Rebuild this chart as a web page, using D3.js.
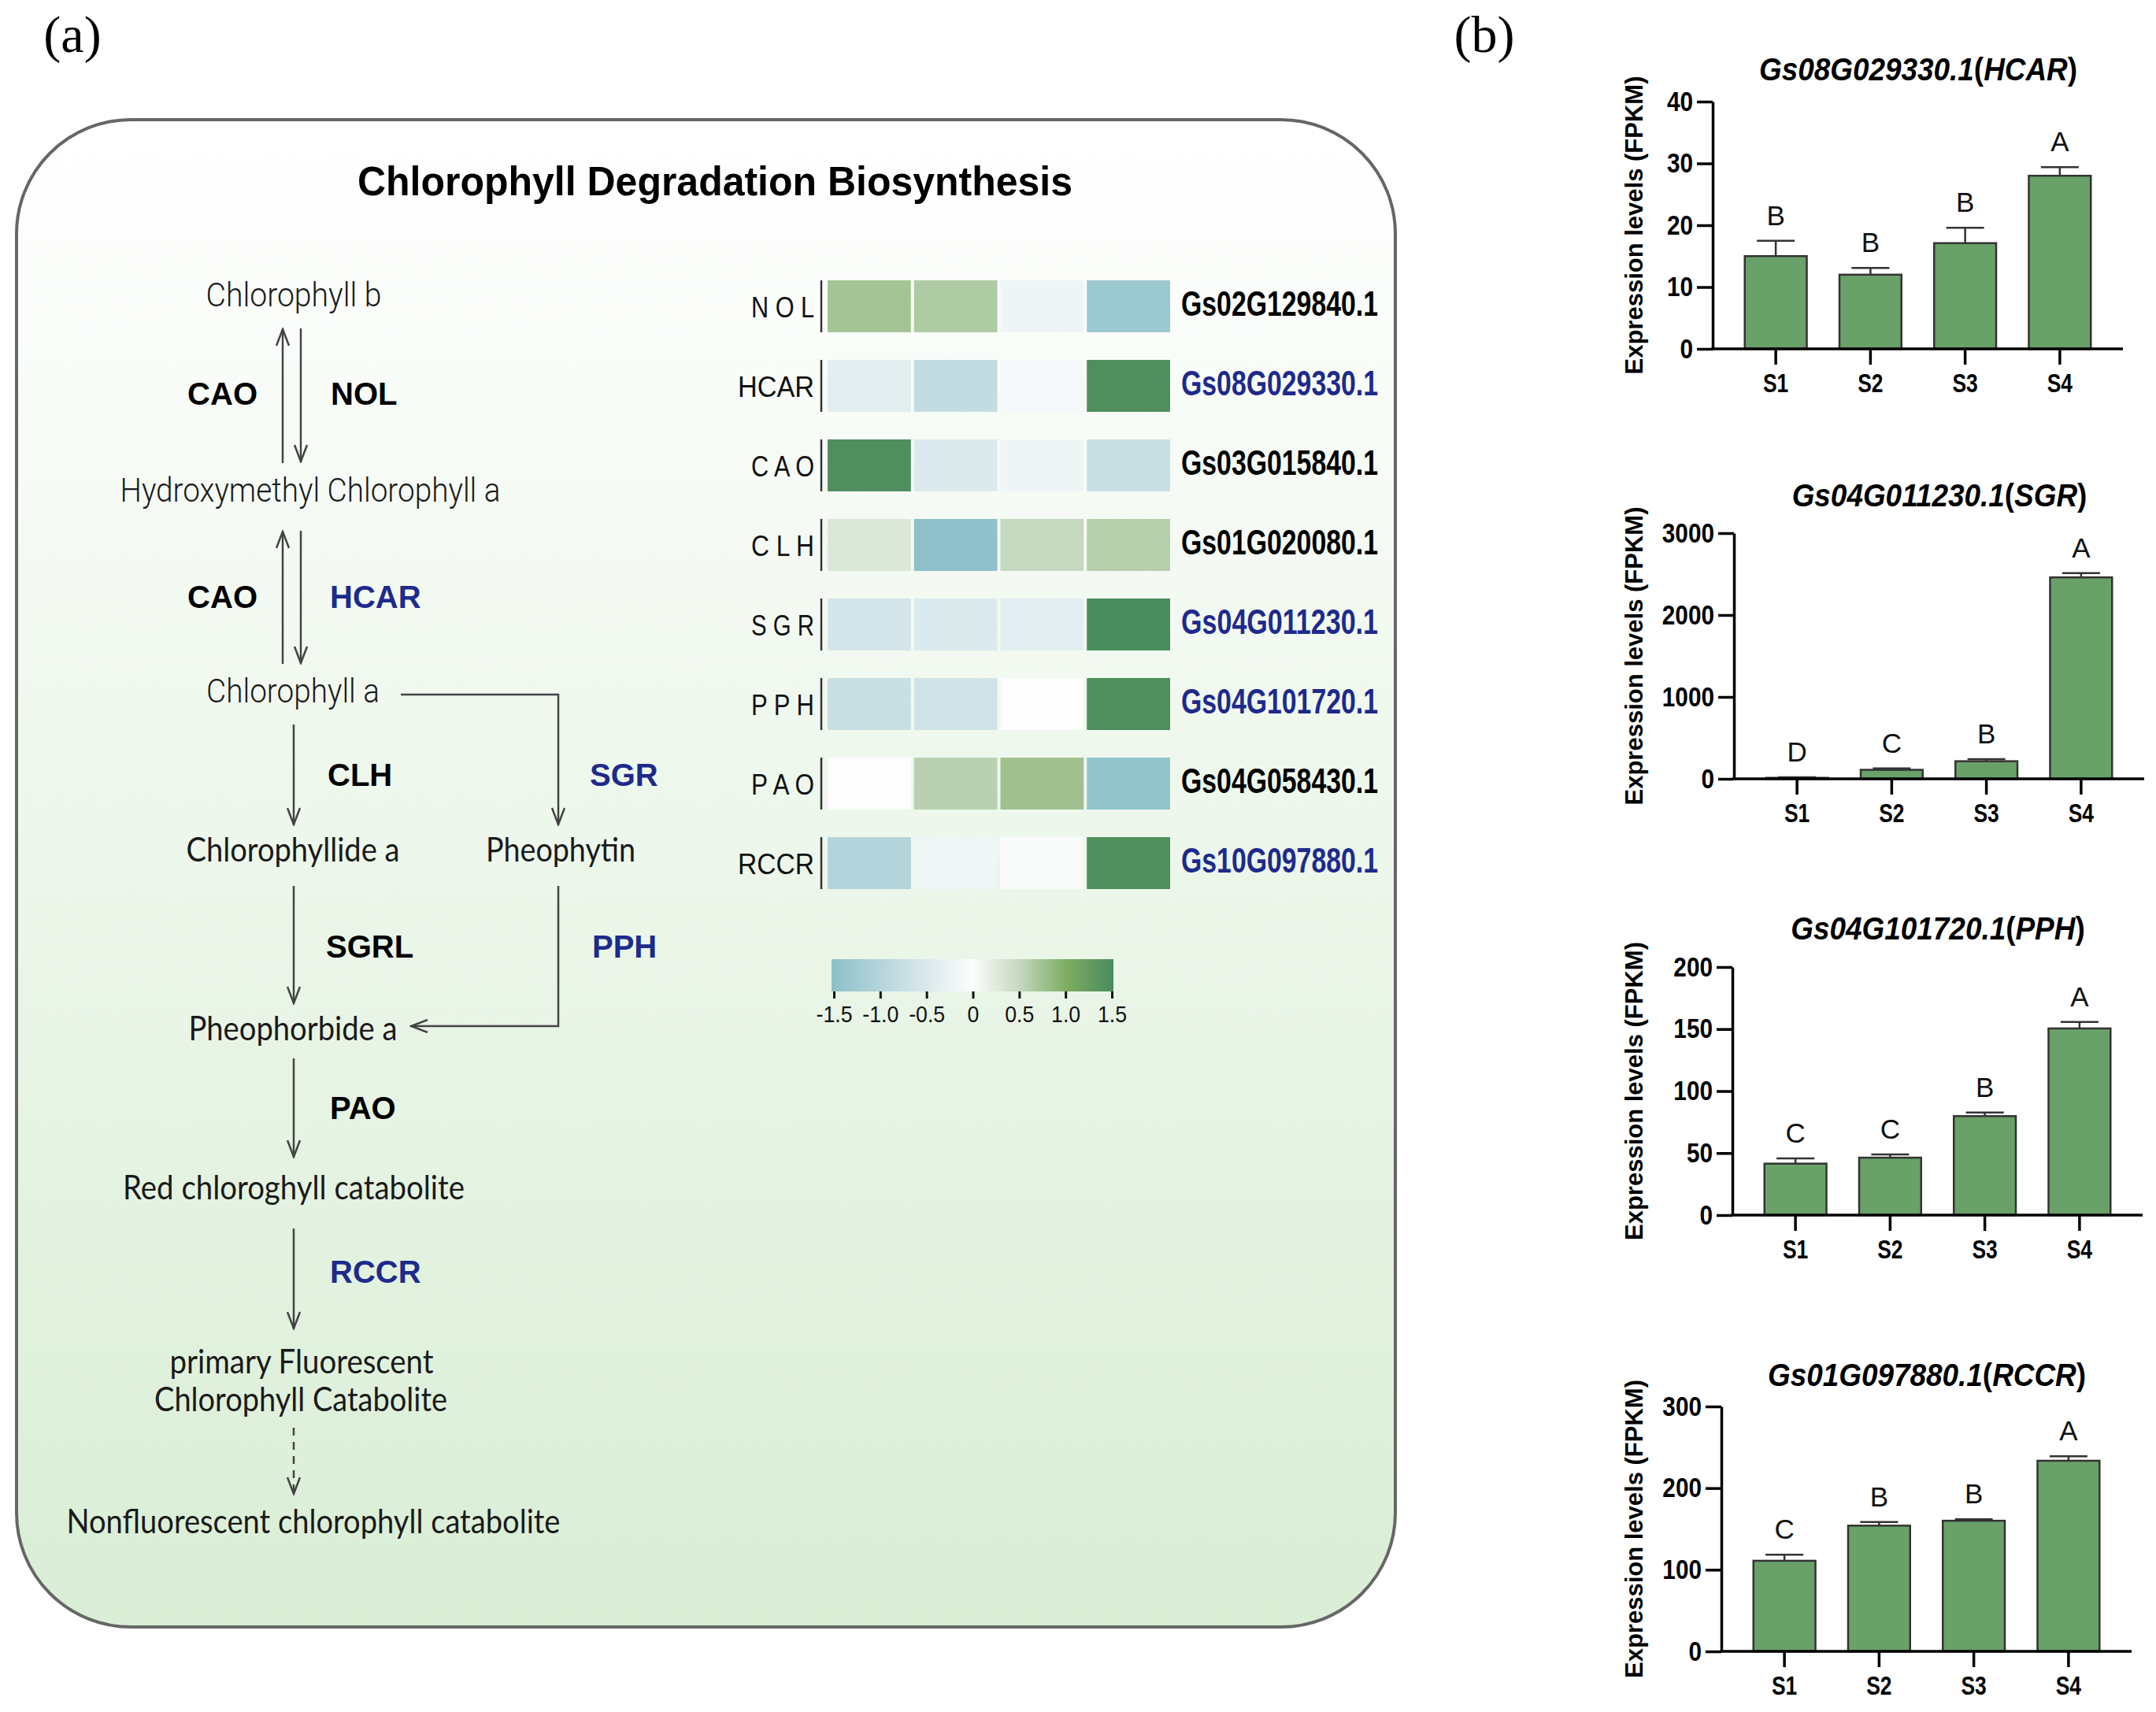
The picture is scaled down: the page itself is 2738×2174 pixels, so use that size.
<!DOCTYPE html>
<html>
<head>
<meta charset="utf-8">
<script src="https://cdn.jsdelivr.net/npm/d3@7"></script>
<style>
  body { margin: 0; background: #fff; }
  svg { display: block; }
</style>
</head>
<body>
<svg id="fig" width="2738" height="2174"></svg>
<script>
// ---------- heatmap data (row z-scores) ----------
const samples = ["S1", "S2", "S3", "S4"];
const heatGenes = ["NOL", "HCAR", "CAO", "CLH", "SGR", "PPH", "PAO", "RCCR"];
const heatIds = ["Gs02G129840.1", "Gs08G029330.1", "Gs03G015840.1", "Gs01G020080.1",
                 "Gs04G011230.1", "Gs04G101720.1", "Gs04G058430.1", "Gs10G097880.1"];
const heatValues = [
  [0.73, 0.65, -0.19, -1.3],
  [-0.38, -0.8, -0.09, 1.45],
  [1.45, -0.45, -0.2, -0.72],
  [0.3, -1.48, 0.5, 0.6],
  [-0.57, -0.46, -0.38, 1.5],
  [-0.73, -0.63, 0.0, 1.45],
  [0.0, 0.58, 0.76, -1.4],
  [-1.0, -0.18, -0.06, 1.45]
];
const highlighted = ["HCAR", "SGR", "PPH", "RCCR"];
const legendTicks = [-1.5, -1, -0.5, 0, 0.5, 1, 1.5];
const legendLabels = ["-1.5", "-1.0", "-0.5", "0", "0.5", "1.0", "1.5"];

// ---------- bar chart data (FPKM) ----------
const barIds = ["Gs08G029330.1", "Gs04G011230.1", "Gs04G101720.1", "Gs01G097880.1"];
const barNames = ["HCAR", "SGR", "PPH", "RCCR"];
const hcarMean = [15.0, 12.0, 17.1, 28.0];
const hcarErr = [2.5, 1.1, 2.5, 1.4];
const hcarLetters = ["B", "B", "B", "A"];
const hcarTicks = [0, 10, 20, 30, 40];
const sgrMean = [12, 110, 215, 2460];
const sgrErr = [8, 18, 26, 53];
const sgrLetters = ["D", "C", "B", "A"];
const sgrTicks = [0, 1000, 2000, 3000];
const pphMean = [41.5, 46.3, 79.8, 150.5];
const pphErr = [4.2, 2.6, 2.9, 5.2];
const pphLetters = ["C", "C", "B", "A"];
const pphTicks = [0, 50, 100, 150, 200];
const rccrMean = [111, 154, 160, 233.5];
const rccrErr = [7.5, 4.5, 1.7, 5.5];
const rccrLetters = ["C", "B", "B", "A"];
const rccrTicks = [0, 100, 200, 300];

// ---------- layout ----------
const SANS = "'Liberation Sans', Arial, Helvetica, sans-serif";
const BLUE = "#1e2a8c";
const svg = d3.select("#fig");
const defs = svg.append("defs");

function condense(sel, k) {
  sel.each(function () {
    const w = this.getComputedTextLength();
    d3.select(this).attr("textLength", w * k).attr("lengthAdjust", "spacingAndGlyphs");
  });
}

// panel letters
svg.append("text").attr("x", 92).attr("y", 66).attr("text-anchor", "middle")
  .attr("font-family", "'Liberation Serif', 'DejaVu Serif', serif").attr("font-size", 66).text("(a)");
svg.append("text").attr("x", 1885).attr("y", 66).attr("text-anchor", "middle")
  .attr("font-family", "'Liberation Serif', 'DejaVu Serif', serif").attr("font-size", 66).text("(b)");

// ---------- panel (a) box ----------
const bg = defs.append("linearGradient").attr("id", "bgGrad")
  .attr("x1", 0).attr("y1", 0).attr("x2", 0).attr("y2", 1);
bg.append("stop").attr("offset", "0%").attr("stop-color", "#ffffff");
bg.append("stop").attr("offset", "100%").attr("stop-color", "#d9eed5");

svg.append("rect")
  .attr("x", 21).attr("y", 152).attr("width", 1751).attr("height", 1914)
  .attr("rx", 145).attr("ry", 145)
  .attr("fill", "url(#bgGrad)").attr("stroke", "#666").attr("stroke-width", 4);

svg.append("text").attr("x", 908).attr("y", 248).attr("text-anchor", "middle")
  .attr("font-family", SANS).attr("font-weight", "bold").attr("font-size", 52)
  .attr("fill", "#000").attr("textLength", 908).attr("lengthAdjust", "spacingAndGlyphs")
  .text("Chlorophyll Degradation Biosynthesis");

// ---------- pathway diagram ----------
const pathNodes = [
  { t: "Chlorophyll b", x: 373, y: 389, w: 223, f: "roboto" },
  { t: "Hydroxymethyl Chlorophyll a", x: 394, y: 637, w: 483, f: "roboto" },
  { t: "Chlorophyll a", x: 372, y: 892, w: 220, f: "roboto" },
  { t: "Chlorophyllide a", x: 372, y: 1094, w: 271, f: "lato" },
  { t: "Pheophytin", x: 712, y: 1094, w: 190, f: "lato" },
  { t: "Pheophorbide a", x: 372, y: 1321, w: 265, f: "lato" },
  { t: "Red chloroghyll catabolite", x: 373, y: 1523, w: 434, f: "lato" },
  { t: "primary Fluorescent", x: 383, y: 1744, w: 335, f: "lato" },
  { t: "Chlorophyll Catabolite", x: 382, y: 1792, w: 372, f: "lato" },
  { t: "Nonfluorescent chlorophyll catabolite", x: 398, y: 1947, w: 627, f: "lato" }
];
const enzymes = [
  { t: "CAO", x: 327, y: 514, a: "end" },
  { t: "NOL", x: 420, y: 514, a: "start" },
  { t: "CAO", x: 327, y: 772, a: "end" },
  { t: "HCAR", x: 419, y: 772, a: "start" },
  { t: "CLH", x: 416, y: 998, a: "start" },
  { t: "SGR", x: 749, y: 998, a: "start" },
  { t: "SGRL", x: 414, y: 1216, a: "start" },
  { t: "PPH", x: 752, y: 1216, a: "start" },
  { t: "PAO", x: 419, y: 1421, a: "start" },
  { t: "RCCR", x: 419, y: 1629, a: "start" }
];
const arrows = [
  { p: [[359, 588], [359, 418]] },
  { p: [[382, 417], [382, 586]] },
  { p: [[359, 843], [359, 675]] },
  { p: [[382, 674], [382, 842]] },
  { p: [[373, 920], [373, 1047]] },
  { p: [[509, 882], [709, 882], [709, 1047]] },
  { p: [[373, 1125], [373, 1274]] },
  { p: [[709, 1125], [709, 1303], [522, 1303]] },
  { p: [[373, 1344], [373, 1469]] },
  { p: [[373, 1560], [373, 1687]] },
  { p: [[373, 1813], [373, 1897]], dash: true }
];

defs.append("marker").attr("id", "head")
  .attr("viewBox", "0 0 24 18").attr("refX", 22).attr("refY", 9)
  .attr("markerWidth", 24).attr("markerHeight", 18)
  .attr("markerUnits", "userSpaceOnUse").attr("orient", "auto")
  .append("path").attr("d", "M1,1 L22,9 L1,17")
  .attr("fill", "none").attr("stroke", "#444").attr("stroke-width", 2.5);

const line = d3.line();
svg.append("g").selectAll("path").data(arrows).join("path")
  .attr("d", d => line(d.p))
  .attr("fill", "none").attr("stroke", "#444").attr("stroke-width", 2.5)
  .attr("stroke-dasharray", d => d.dash ? "10,8" : null)
  .attr("marker-end", "url(#head)");

svg.append("g").selectAll("text").data(pathNodes).join("text")
  .attr("x", d => d.x - d.w / 2).attr("y", d => d.y)
  .attr("font-family", d => d.f === "roboto" ? "Roboto, sans-serif" : "Lato, 'Open Sans', sans-serif")
  .attr("font-weight", d => d.f === "roboto" ? 300 : 400)
  .attr("font-size", 43).attr("fill", "#1a1a1a")
  .attr("textLength", d => d.w).attr("lengthAdjust", "spacingAndGlyphs")
  .text(d => d.t);

svg.append("g").selectAll("text").data(enzymes).join("text")
  .attr("x", d => d.x).attr("y", d => d.y).attr("text-anchor", d => d.a)
  .attr("font-family", SANS).attr("font-weight", "bold").attr("font-size", 40)
  .attr("fill", d => highlighted.includes(d.t) ? BLUE : "#000")
  .text(d => d.t);

// ---------- heatmap ----------
const heatColor = d3.scaleLinear()
  .domain([-1.5, -0.75, 0, 0.5, 1, 1.5])
  .range(["#8cc0c9", "#c7dee3", "#fcfdfc", "#c5d8c0", "#7dac62", "#4a8c5e"])
  .clamp(true);
const hx = d3.scaleBand().domain(samples).range([1051, 1486]).paddingInner(0.036);
const hy = d3.scaleBand().domain(heatGenes).range([356, 1129]).paddingInner(0.347);

const cells = [];
heatGenes.forEach((g, r) => samples.forEach((s, c) => cells.push({ g, s, v: heatValues[r][c] })));

const heat = svg.append("g");
heat.selectAll("rect").data(cells).join("rect")
  .attr("x", d => hx(d.s)).attr("y", d => hy(d.g))
  .attr("width", hx.bandwidth()).attr("height", hy.bandwidth())
  .attr("fill", d => heatColor(d.v));

heat.selectAll("line.sep").data(heatGenes).join("line").attr("class", "sep")
  .attr("x1", 1043).attr("x2", 1043)
  .attr("y1", d => hy(d)).attr("y2", d => hy(d) + hy.bandwidth())
  .attr("stroke", "#333").attr("stroke-width", 2.5);

heat.selectAll("text.row").data(heatGenes).join("text").attr("class", "row")
  .attr("x", d => 1034 - (d.length === 3 ? 80 : 97))
  .attr("y", d => hy(d) + hy.bandwidth() / 2 + 14)
  .attr("font-family", SANS).attr("font-size", 37).attr("fill", "#111")
  .attr("textLength", d => d.length === 3 ? 80 : 97).attr("lengthAdjust", "spacingAndGlyphs")
  .text(d => d.length === 3 ? d.split("").join(" ") : d);

heat.selectAll("text.gid").data(heatIds).join("text").attr("class", "gid")
  .attr("x", 1500)
  .attr("y", (d, i) => hy(heatGenes[i]) + hy.bandwidth() / 2 + 12)
  .attr("font-family", SANS).attr("font-weight", "bold").attr("font-size", 44)
  .attr("fill", (d, i) => highlighted.includes(heatGenes[i]) ? BLUE : "#000")
  .attr("textLength", 250).attr("lengthAdjust", "spacingAndGlyphs")
  .text(d => d);

// colour legend
const lx = d3.scaleLinear().domain([-1.5, 1.5]).range([1059, 1412]);
const lg = defs.append("linearGradient").attr("id", "legGrad")
  .attr("x1", 0).attr("y1", 0).attr("x2", 1).attr("y2", 0);
d3.range(0, 31).forEach(i => {
  const v = -1.5 + i * 0.1;
  lg.append("stop").attr("offset", (i / 30 * 100) + "%").attr("stop-color", heatColor(v));
});
svg.append("rect").attr("x", lx(-1.5) - 3).attr("y", 1218)
  .attr("width", lx(1.5) - lx(-1.5) + 5).attr("height", 41)
  .attr("fill", "url(#legGrad)");
const legAxis = svg.append("g").attr("transform", "translate(0,1259)")
  .call(d3.axisBottom(lx).tickValues(legendTicks)
    .tickFormat((d, i) => legendLabels[i]).tickSize(9).tickPadding(9));
legAxis.select(".domain").remove();
legAxis.selectAll(".tick line").attr("stroke", "#111").attr("stroke-width", 3);
legAxis.attr("font-family", SANS).attr("font-size", null);
legAxis.selectAll("text").attr("font-size", 29).attr("fill", "#111");
condense(legAxis.selectAll("text"), 0.92);

// ---------- panel (b) bar charts ----------
const charts = [
  { mean: hcarMean, err: hcarErr, letters: hcarLetters, ticks: hcarTicks },
  { mean: sgrMean, err: sgrErr, letters: sgrLetters, ticks: sgrTicks },
  { mean: pphMean, err: pphErr, letters: pphLetters, ticks: pphTicks },
  { mean: rccrMean, err: rccrErr, letters: rccrLetters, ticks: rccrTicks }
];
const barLayout = [
  { axisX: 2175, top: 129, zero: 443, titleY: 102 },
  { axisX: 2202, top: 677, zero: 989, titleY: 643 },
  { axisX: 2200, top: 1228, zero: 1543, titleY: 1193 },
  { axisX: 2186, top: 1786, zero: 2097, titleY: 1760 }
];

charts.forEach((c, k) => {
  const L = barLayout[k];
  const y = d3.scaleLinear().domain([0, c.ticks[c.ticks.length - 1]]).range([L.zero, L.top]);
  const x = d3.scaleBand().domain(samples).range([L.axisX + 20, L.axisX + 501])
    .paddingInner(0.345).paddingOuter(0.1725);
  const g = svg.append("g");

  // title
  const title = g.append("text").attr("x", L.axisX + 261).attr("y", L.titleY)
    .attr("text-anchor", "middle").attr("font-family", SANS)
    .attr("font-weight", "bold").attr("font-size", 41).attr("fill", "#000");
  title.append("tspan").attr("font-style", "italic").text(barIds[k]);
  title.append("tspan").text("(");
  title.append("tspan").attr("font-style", "italic").text(barNames[k]);
  title.append("tspan").text(")");
  condense(title, 0.9);

  // bars
  g.selectAll("rect.bar").data(c.mean).join("rect").attr("class", "bar")
    .attr("x", (d, i) => x(samples[i])).attr("y", d => y(d))
    .attr("width", x.bandwidth()).attr("height", d => y(0) - y(d))
    .attr("fill", "#69a168").attr("stroke", "#333").attr("stroke-width", 2.5);

  // error bars (upper only)
  const cap = 24;
  g.selectAll("path.err").data(c.mean).join("path").attr("class", "err")
    .attr("d", (d, i) => {
      const cx = x(samples[i]) + x.bandwidth() / 2;
      const yt = y(d + c.err[i]);
      return `M${cx},${y(d)}V${yt}M${cx - cap},${yt}H${cx + cap}`;
    })
    .attr("fill", "none").attr("stroke", "#333").attr("stroke-width", 2.5);

  // significance letters
  g.selectAll("text.sig").data(c.letters).join("text").attr("class", "sig")
    .attr("x", (d, i) => x(samples[i]) + x.bandwidth() / 2)
    .attr("y", (d, i) => y(c.mean[i] + c.err[i]) - 20)
    .attr("text-anchor", "middle").attr("font-family", SANS)
    .attr("font-size", 35).attr("fill", "#111")
    .text(d => d);

  // y axis
  const ya = g.append("g").attr("transform", `translate(${L.axisX},0)`)
    .call(d3.axisLeft(y).tickValues(c.ticks).tickFormat(d3.format("d"))
      .tickSize(20).tickSizeOuter(0).tickPadding(5));
  ya.attr("font-family", SANS).attr("font-size", null);
  ya.select(".domain").attr("stroke", "#000").attr("stroke-width", 3.5);
  ya.selectAll(".tick line").attr("stroke", "#000").attr("stroke-width", 3.5);
  ya.selectAll("text").attr("font-size", 35).attr("font-weight", "bold").attr("fill", "#000");
  condense(ya.selectAll("text"), 0.85);

  // x axis
  g.append("line").attr("x1", L.axisX - 1.75).attr("x2", L.axisX + 521)
    .attr("y1", y(0)).attr("y2", y(0))
    .attr("stroke", "#000").attr("stroke-width", 3.5);
  const xa = g.append("g").attr("transform", `translate(0,${y(0)})`)
    .call(d3.axisBottom(x).tickSize(20).tickPadding(12));
  xa.select(".domain").remove();
  xa.attr("font-family", SANS).attr("font-size", null);
  xa.selectAll(".tick line").attr("stroke", "#000").attr("stroke-width", 3.5);
  xa.selectAll("text").attr("font-size", 33).attr("font-weight", "bold").attr("fill", "#000");
  condense(xa.selectAll("text"), 0.8);

  // y axis title
  g.append("text")
    .attr("transform", `translate(2086,${(L.top + L.zero) / 2}) rotate(-90)`)
    .attr("text-anchor", "middle").attr("font-family", SANS)
    .attr("font-weight", "bold").attr("font-size", 31).attr("fill", "#000")
    .text("Expression levels (FPKM)");
});
</script>
</body>
</html>
